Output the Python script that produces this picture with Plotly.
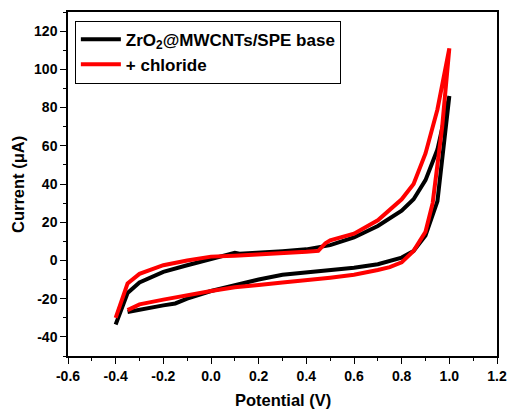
import plotly.graph_objects as go

# Black: ZrO2@MWCNTs/SPE base (CV loop)
base_v = [-0.40, -0.37, -0.35, -0.30, -0.25, -0.20, -0.10, 0.00, 0.10, 0.12, 0.20, 0.30, 0.40, 0.50, 0.60, 0.70, 0.80, 0.85, 0.90, 0.95, 1.00,
          0.95, 0.90, 0.85, 0.80, 0.75, 0.70, 0.60, 0.50, 0.40, 0.30, 0.20, 0.10, 0.00, -0.10, -0.15, -0.20, -0.30, -0.35]
base_i = [-33.5, -24, -17, -11.5, -8.5, -6, -2.5, 0.5, 4, 3.5, 4, 4.8, 5.8, 8, 12, 18, 26, 32, 42, 58, 86,
          31, 13, 5, 1.5, -0.5, -2, -3.8, -5, -6, -7.5, -10, -13, -16, -20, -22.5, -23.5, -25.5, -27]

# Red: + chloride
cl_v = [-0.40, -0.35, -0.30, -0.25, -0.20, -0.10, 0.00, 0.10, 0.20, 0.30, 0.40, 0.45, 0.48, 0.50, 0.60, 0.70, 0.80, 0.85, 0.90, 0.95, 1.00,
        0.97, 0.93, 0.90, 0.85, 0.80, 0.75, 0.70, 0.60, 0.50, 0.40, 0.30, 0.20, 0.10, 0.00, -0.10, -0.20, -0.30, -0.35]
cl_i = [-30, -12, -7, -4.5, -2.5, 0, 2, 2.5, 3, 3.5, 4.5, 5, 9, 10.5, 14, 21, 32, 40, 56, 79, 111,
        70, 30, 15, 5, -1, -3.5, -5, -7.5, -9, -10, -11.5, -12.8, -14, -16, -18, -20.5, -23, -26]

x_ticks = [-0.6, -0.4, -0.2, 0.0, 0.2, 0.4, 0.6, 0.8, 1.0, 1.2]
y_ticks = [-40, -20, 0, 20, 40, 60, 80, 100, 120]

fig = go.Figure()
fig.add_trace(go.Scatter(x=base_v, y=base_i, mode="lines", name="ZrO<sub>2</sub>@MWCNTs/SPE base",
                         line=dict(color="black", width=4)))
fig.add_trace(go.Scatter(x=cl_v, y=cl_i, mode="lines", name="+ chloride",
                         line=dict(color="#ff0000", width=4)))

axis_common = dict(
    showgrid=False, zeroline=False, showline=True, linecolor="black", linewidth=1.5,
    mirror=True, ticks="outside", ticklen=6, tickwidth=1.2, tickcolor="black",
    automargin=False,
    tickfont=dict(family="Liberation Sans, Arial", size=14, color="black", weight="bold"),
    minor=dict(ticks="outside", ticklen=3, tickcolor="black", tickwidth=1),
)

fig.update_layout(
    width=508, height=411,
    margin=dict(l=68, r=11, t=12, b=55),
    plot_bgcolor="white", paper_bgcolor="white",
    font=dict(family="Liberation Sans, Arial", color="black"),
    xaxis=dict(range=[-0.6, 1.2], tickvals=x_ticks, ticktext=[f"{v:.1f}" for v in x_ticks],
               minor_dtick=0.1, **axis_common),
    yaxis=dict(range=[-50, 130], tickvals=y_ticks, ticktext=[str(v) for v in y_ticks],
               minor_dtick=10, **axis_common),
    legend=dict(x=0.016, y=0.975, xanchor="left", yanchor="top",
                bgcolor="white", bordercolor="black", borderwidth=1,
                font=dict(size=17, weight="bold", color="black"),
                tracegroupgap=0, itemwidth=40),
    showlegend=True,
    annotations=[
        dict(text="<b>Potential (V)</b>", xref="paper", yref="paper", x=0.5, y=-0.128,
             xanchor="center", yanchor="middle", showarrow=False, font=dict(size=16.5)),
        dict(text="<b>Current (μA)</b>", xref="paper", yref="paper", x=-0.1166, y=0.5,
             xanchor="center", yanchor="middle", textangle=-90, showarrow=False, font=dict(size=16.5)),
    ],
)

fig.write_html("out.html")
